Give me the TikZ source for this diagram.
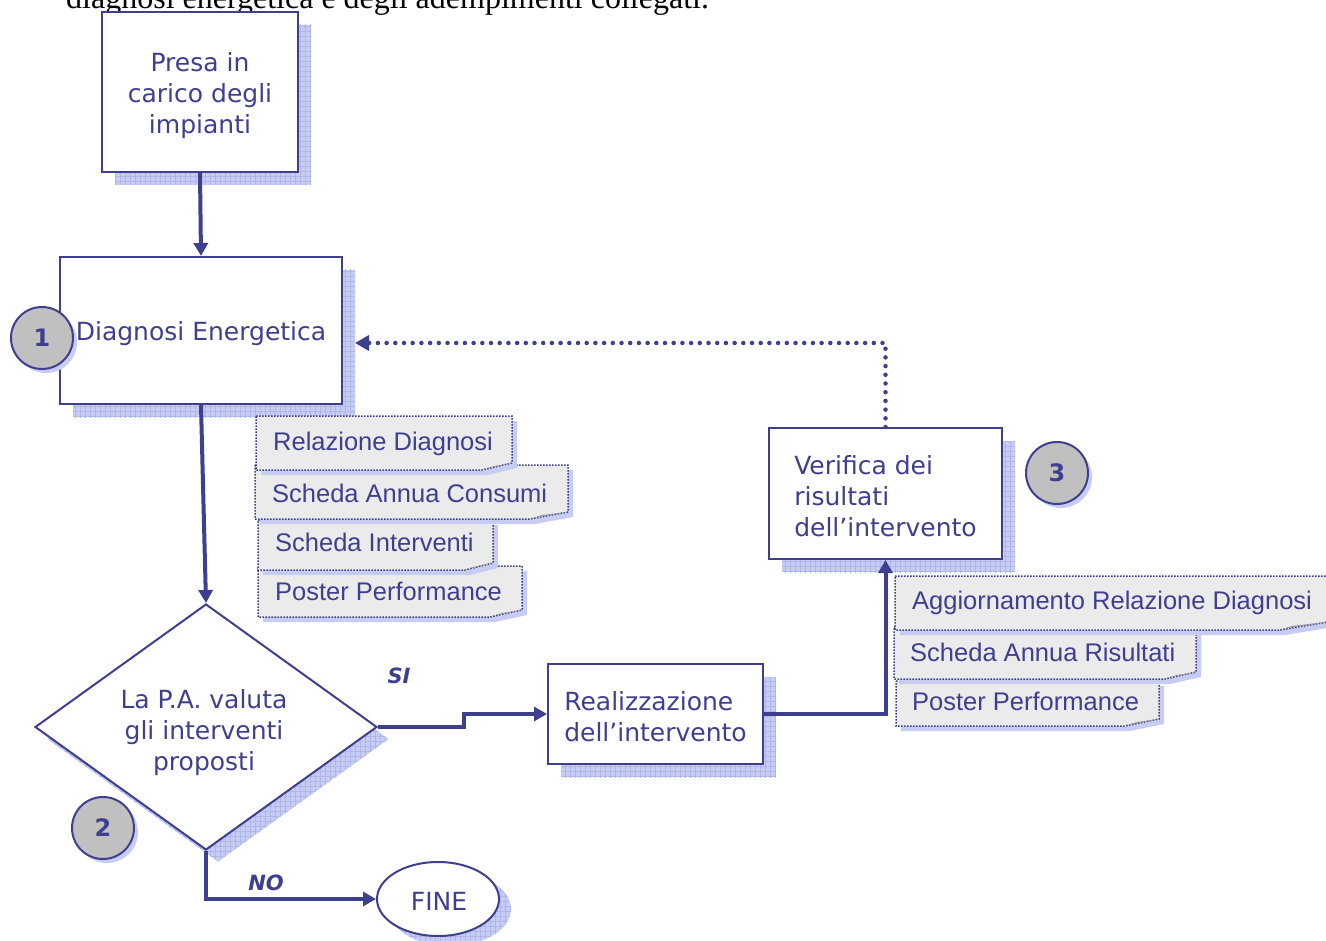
\documentclass[tikz,border=0pt]{standalone}
\usepackage{fontspec}
\setmainfont{DejaVu Sans}
\newfontfamily\boxfont{DejaVu Sans}
\newfontfamily\docfont{Liberation Sans}
\newfontfamily\seriffont{Liberation Serif}
\usetikzlibrary{shapes.geometric, arrows.meta, shadows, patterns.meta, calc}
\definecolor{dblue}{HTML}{3F3F8F}
\definecolor{shadowblue}{HTML}{C6CCF2}
\definecolor{gridblue}{HTML}{AFB7EA}
\definecolor{docgray}{HTML}{EBEBEB}
\definecolor{circgray}{HTML}{C0C0C0}
\newcommand\docshape[6]{%
  \fill[shadowblue] ({#1+5},{#2+5}) -- ({#3+5},{#2+5}) -- ({#3+5},{#5+5}) -- ({#6+5},{#4+5}) -- ({#1+5},{#4+5}) -- cycle;
  \draw[docline, fill=docgray] (#1,#2) -- (#3,#2) -- (#3,#5) -- (#6,#4) -- (#1,#4) -- cycle;
  \fill[gray!80] ({#6+2},{#4-1}) -- ({#3},{#5}) -- ({#6+12},{#4-4}) -- cycle;
}
\begin{document}
\begin{tikzpicture}[x=1pt,y=-1pt,
  shadowgrid/.style n args={2}{
    general shadow={shadow xshift=#1pt,shadow yshift=-#2pt,fill=shadowblue},
    general shadow={shadow xshift=#1pt,shadow yshift=-#2pt,pattern={Hatch[angle=0,distance=5pt,line width=0.5pt]},pattern color=gridblue}},
  box/.style={rectangle, draw=dblue, line width=2pt, fill=white, inner sep=0pt, shadowgrid={13}{13}},
  boxtext/.style={inner sep=0pt, text=dblue, font=\boxfont\fontsize{25}{31}\selectfont, align=center},
  circ/.style={circle, draw=dblue, line width=2pt, fill=circgray, minimum size=62pt, inner sep=0pt,
    text=dblue, font=\boxfont\bfseries\fontsize{24}{28}\selectfont,
    general shadow={shadow xshift=4pt, shadow yshift=-4pt, fill=shadowblue}},
  conn/.style={draw=dblue, line width=4pt, -{Triangle[length=13pt,width=14pt]}},
  dotconn/.style={draw=dblue, line width=4.5pt, line cap=round, dash pattern=on 0pt off 8.7pt,
    -{Triangle[length=14pt,width=15pt]}},
  docline/.style={draw=dblue, line width=1.5pt, dash pattern=on 1.5pt off 1.5pt},
  doctext/.style={anchor=west, inner sep=0pt, text=dblue, font=\docfont\fontsize{25.5}{30}\selectfont},
  lab/.style={inner sep=0pt, text=dblue, font=\boxfont\bfseries\itshape\fontsize{21}{25}\selectfont}
]
\useasboundingbox (0,0) rectangle (1326,941);
\fill[white] (0,0) rectangle (1326,941);

\node[anchor=base west, inner sep=0pt, font=\seriffont\fontsize{32}{38}\selectfont] (toptext) at (66,9)
  {diagnosi energetica e degli adempimenti collegati.};

% boxes
\node[box, minimum width=196pt, minimum height=160pt] (A) at (200,92) {};
\node[boxtext] (At) at (200,96) {Presa in\\carico degli\\impianti};
\node[box, minimum width=282pt, minimum height=147pt] (B) at (201,330.5) {};
\node[boxtext] (Bt) at (201,334) {Diagnosi Energetica};
\node[box, minimum width=215pt, minimum height=100pt] (R) at (655.5,714) {};
\node[boxtext, align=left] (Rt) at (655.5,717) {Realizzazione\\dell’intervento};
\node[box, minimum width=233pt, minimum height=131pt] (V) at (885.5,493.5) {};
\node[boxtext, align=left] (Vt) at (885.5,496.5) {Verifica dei\\risultati\\dell’intervento};
\node[diamond, draw=dblue, line width=2pt, fill=white, minimum width=342pt, minimum height=246pt,
  inner sep=0pt, aspect=1.39, shadowgrid={12}{12}] (D) at (206,727) {};
\node[boxtext] (Dt) at (204,733) {La P.A. valuta\\gli interventi\\proposti};
\node[ellipse, draw=dblue, line width=2pt, fill=white, minimum width=122pt, minimum height=74pt,
  inner sep=0pt, shadowgrid={12}{10}] (F) at (438,899) {};
\node[boxtext] (Ft) at (439,901) {FINE};

% numbered circles
\node[circ] (c1) at (42,338) {1};
\node[circ] (c2) at (103,828) {2};
\node[circ] (c3) at (1057,473) {3};

% documents (left)
\docshape{258}{566}{522}{617}{610}{490}
\node[doctext] (d4) at (275,591) {Poster Performance};
\docshape{258}{520}{493}{570}{563}{465}
\node[doctext] (d3) at (275,542) {Scheda Interventi};
\docshape{255}{465}{568}{519}{512}{530}
\node[doctext] (d2) at (272,493) {Scheda Annua Consumi};
\docshape{256}{416}{512}{470}{463}{482}
\node[doctext] (d1) at (273,444) {Relazione Diagnosi};

% documents (right)
\docshape{896}{681}{1159}{726}{719}{1125}
\node[doctext] (d7) at (912,701) {Poster Performance};
\docshape{894}{627}{1196}{679}{672}{1165}
\node[doctext] (d6) at (910,652) {Scheda Annua Risultati};
\docshape{895}{576}{1334}{630}{621}{1280}
\node[doctext] (d5) at (912,603) {Aggiornamento Relazione Diagnosi};

% connectors
\coordinate (Bin) at (355,343);
\draw[conn] (A.south) -- (B.north);
\draw[conn] (B.south) -- (D.north);
\draw[conn] (D.east) -- ++(86,0) |- (R.west);
\draw[conn] (R.east) -| (V.south);
\draw[conn] (D.south) |- (F.west);
\draw[dotconn] (V.north) |- (Bin);

% labels
\node[lab] (si) at (399,676) {SI};
\node[lab] (no) at (266,883) {NO};
\end{tikzpicture}
\end{document}
